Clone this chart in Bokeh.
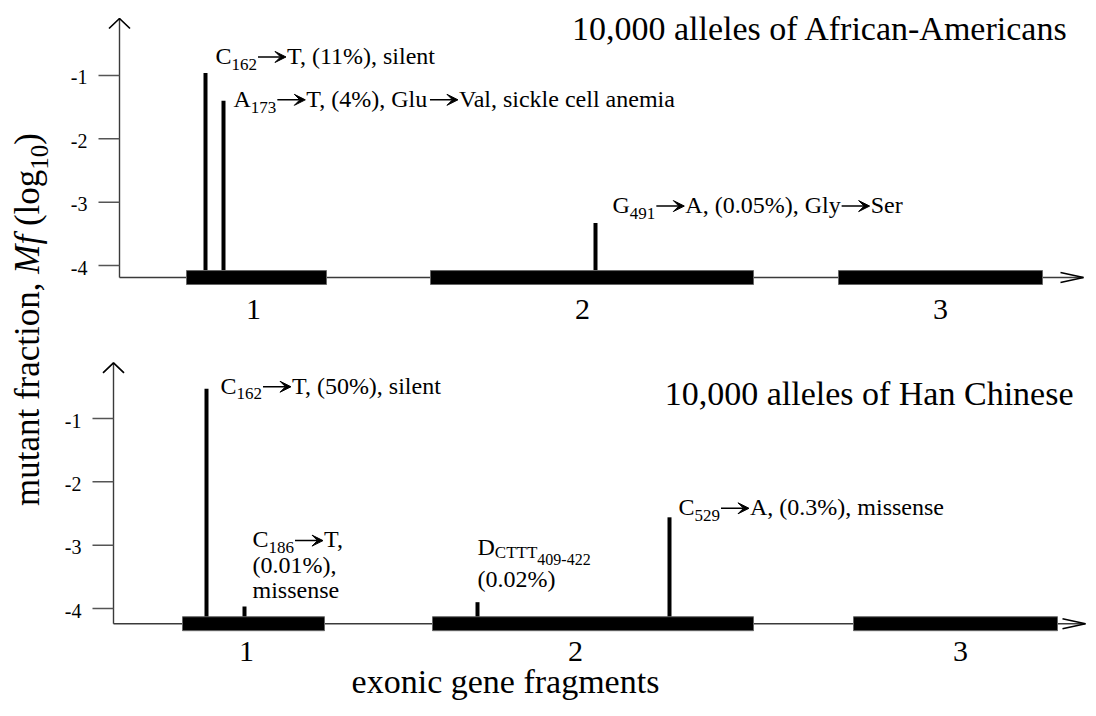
import math
from bokeh.plotting import figure
from bokeh.models import Range1d, Arrow, VeeHead, ColumnDataSource
from bokeh.core.properties import value
from bokeh.embed import file_html
from bokeh.resources import INLINE

# ---------------- data ----------------
exon_names = ["1", "2", "3"]
# schematic gene-axis positions (arbitrary drawing units along the gene)
aa_exon_start = [186, 430, 838]
aa_exon_end = [326, 753, 1042]
aa_exon_label_x = [253, 582, 940]
hc_exon_start = [182, 432, 853]
hc_exon_end = [324, 753, 1057]
hc_exon_label_x = [246, 575, 960]

# mutations: schematic position and log10 mutant fraction
aa_mut_pos = [205, 223, 595]
aa_mut_logmf = [-0.96, -1.40, -3.33]
hc_mut_pos = [206, 244, 477, 669]
hc_mut_logmf = [-0.53, -3.97, -3.90, -2.56]

y_ticks = [-1, -2, -3, -4]

aa_labels = [
    [[("n", "C"), ("sub", "162"), ("arrow", ""), ("n", "T, (11%), silent")]],
    [[("n", "A"), ("sub", "173"), ("arrow", ""), ("n", "T, (4%), Glu"), ("arrow", ""),
      ("n", "Val, sickle cell anemia")]],
    [[("n", "G"), ("sub", "491"), ("arrow", ""), ("n", "A, (0.05%), Gly"), ("arrow", ""), ("n", "Ser")]],
]
hc_labels = [
    [[("n", "C"), ("sub", "162"), ("arrow", ""), ("n", "T, (50%), silent")]],
    [[("n", "C"), ("sub", "186"), ("arrow", ""), ("n", "T,")], [("n", "(0.01%),")], [("n", "missense")]],
    [[("n", "D"), ("sub1", "CTTT"), ("sub2", "409-422")], [("n", "(0.02%)")]],
    [[("n", "C"), ("sub", "529"), ("arrow", ""), ("n", "A, (0.3%), missense")]],
]
aa_title = "10,000 alleles of African-Americans"
hc_title = "10,000 alleles of Han Chinese"
x_title = "exonic gene fragments"
y_title = [("n", "mutant fraction, "), ("i", "Mf"), ("n", " (log"), ("sub", "10"), ("n", ")")]

# ---------------- layout / style ----------------
W, H = 1096, 716
FONT = "Liberation Serif"
INK = "black"
AXC = "#3a3a3a"
MID = 0.34  # distance (in em) from alphabetic baseline up to the "middle" anchor
# label placement relative to top of each mutation line: dx, baseline dy per line (px, + = down)
aa_label_layout = [(10, [-9]), (10, [6]), (17, [-10])]
hc_label_layout = [(14, [5]), (8, [-59, -33, -8]), (0, [-47, -15]), (9, [-2])]
KINDS = {"n": (24, 0), "sub": (17, 6), "sub1": (17, 3), "sub2": (16, 10)}
ARROW_LEN, ARROW_RAISE = 30, 7

panels = {
    # range so that -4 / -1 land at the drawn tick heights
    "aa": dict(rng=Range1d(-11.121, 0.1842), axis_x=119, base=-4.19, top=-0.10, x_end=1083,
               starts=aa_exon_start, ends=aa_exon_end, lab_x=aa_exon_label_x, lab_dy=32,
               pos=aa_mut_pos, val=aa_mut_logmf, labels=aa_labels, layout=aa_label_layout),
    "hc": dict(rng=Range1d(-5.705, 5.600), axis_x=113, base=-4.24, top=-0.12, x_end=1085,
               starts=hc_exon_start, ends=hc_exon_end, lab_x=hc_exon_label_x, lab_dy=28,
               pos=hc_mut_pos, val=hc_mut_logmf, labels=hc_labels, layout=hc_label_layout),
}

TW = {' ': 250, '!': 333, '%': 833, '(': 333, ')': 333, ',': 250, '-': 333, '.': 250,
      'A': 722, 'C': 667, 'D': 722, 'G': 722, 'M': 889, 'S': 556, 'T': 611, 'V': 722,
      'a': 444, 'c': 444, 'e': 444, 'f': 333, 'g': 500, 'i': 278, 'k': 500, 'l': 278,
      'm': 778, 'n': 500, 'o': 500, 'r': 333, 's': 389, 't': 278, 'u': 500, 'y': 500}
TWI = {'M': 833, 'f': 278}


def text_width(s, size, italic=False):
    tot = 0
    for ch in s:
        if italic and ch in TWI:
            tot += TWI[ch]
        else:
            tot += TW.get(ch, 500)
    return tot * size / 1000.0


p = figure(width=W, height=H, x_range=Range1d(0, W), y_range=Range1d(H, 0),
           output_backend="svg", toolbar_location=None, min_border=0,
           x_axis_location=None, y_axis_location=None)
p.grid.visible = False
p.outline_line_color = None
p.background_fill_color = "white"
p.border_fill_color = "white"
p.extra_y_ranges = {k: v["rng"] for k, v in panels.items()}

for name, P in panels.items():
    ppu = H / (P["rng"].end - P["rng"].start)
    ax = P["axis_x"]
    base = P["base"]
    top = P["top"]
    xe = P["x_end"]
    # axis lines
    p.segment(x0=[ax, ax], y0=[base, base], x1=[xe, ax], y1=[base, top],
              line_color=AXC, line_width=1.4, y_range_name=name)
    # open arrow heads
    p.multi_line(xs=[[ax - 10.5, ax, ax + 10.5], [xe - 23, xe, xe - 23]],
                 ys=[[top - 10 / ppu, top, top - 10 / ppu], [base + 5 / ppu, base, base - 5 / ppu]],
                 line_color=INK, line_width=1.7, y_range_name=name)
    # ticks and tick labels
    p.segment(x0=[ax - 21] * len(y_ticks), x1=[ax] * len(y_ticks), y0=y_ticks, y1=y_ticks,
              line_color="#555555", line_width=1.5, y_range_name=name)
    p.text(x=[ax - 32] * len(y_ticks), y=y_ticks, text=[str(t) for t in y_ticks],
           text_align="right", text_baseline="middle", y_offset=2,
           text_font=value(FONT), text_font_size="20px", text_color=INK, y_range_name=name)
    # mutation lines
    p.segment(x0=P["pos"], x1=P["pos"], y0=[base] * len(P["pos"]), y1=P["val"],
              line_color=INK, line_width=4, line_cap="butt", y_range_name=name)
    # exon bars
    p.quad(left=P["starts"], right=P["ends"], bottom=[base - 0.11] * 3, top=[base + 0.11] * 3,
           fill_color=INK, line_color="#666666", line_width=1, y_range_name=name)
    # exon labels
    p.text(x=P["lab_x"], y=[base] * 3, text=exon_names, y_offset=P["lab_dy"],
           text_align="center", text_baseline="middle",
           text_font=value(FONT), text_font_size="30px", text_color=INK, y_range_name=name)
    # annotation labels
    txt = {k: [] for k in ("x", "y", "xo", "yo", "text", "size")}
    arr = {k: [] for k in ("xs", "ys", "xe", "ye")}
    for x0, v, lines, (dx, dys) in zip(P["pos"], P["val"], P["labels"], P["layout"]):
        for line, dy in zip(lines, dys):
            cur = dx
            for kind, s in line:
                if kind == "arrow":
                    ya = v - (dy - ARROW_RAISE) / ppu
                    arr["xs"].append(x0 + cur + 1)
                    arr["xe"].append(x0 + cur + ARROW_LEN - 1)
                    arr["ys"].append(ya)
                    arr["ye"].append(ya)
                    cur += ARROW_LEN
                else:
                    size, shift = KINDS[kind]
                    lead = len(s) - len(s.lstrip(" "))
                    cur += text_width(" " * lead, size)
                    s = s.lstrip(" ")
                    txt["x"].append(x0)
                    txt["y"].append(v)
                    txt["xo"].append(cur)
                    txt["yo"].append(dy + shift - MID * size)
                    txt["text"].append(s)
                    txt["size"].append(f"{size}px")
                    cur += text_width(s, size)
    p.text(x="x", y="y", text="text", x_offset="xo", y_offset="yo", text_font_size="size",
           source=ColumnDataSource(txt), text_align="left", text_baseline="middle",
           text_font=value(FONT), text_color=INK, y_range_name=name)
    if arr["xs"]:
        p.add_layout(Arrow(x_start="xs", y_start="ys", x_end="xe", y_end="ye",
                           source=ColumnDataSource(arr), y_range_name=name,
                           line_color=INK, line_width=1.5,
                           end=VeeHead(size=11, fill_color=INK, line_color=INK, line_width=1)))

# panel titles (baselines at 40 and 405 px)
TS = 34
p.text(x=[1068, 1073], y=[40 - MID * TS, 405 - MID * TS], text=[aa_title, hc_title],
       text_align="right", text_baseline="middle", text_font=value(FONT),
       text_font_size=f"{TS}px", text_color=INK)
# x title (baseline at 693 px)
p.text(x=[505], y=[693 - MID * TS], text=[x_title], text_align="center", text_baseline="middle",
       text_font=value(FONT), text_font_size=f"{TS}px", text_color=INK)
# y title (rotated, composed of segments; baseline at x = 39 px)
YT_SIZE, YT_SUB = 35, 25
ysegs = {k: [] for k in ("x", "y", "text", "size", "style")}
total = 0
for kind, s in y_title:
    size = YT_SUB if kind == "sub" else YT_SIZE
    total += text_width(s, size, italic=(kind == "i"))
cur = 0
y_start = 319 + total / 2
for kind, s in y_title:
    size = YT_SUB if kind == "sub" else YT_SIZE
    shift = 8 if kind == "sub" else 0
    lead = len(s) - len(s.lstrip(" "))
    cur += text_width(" " * lead, size)
    s = s.lstrip(" ")
    ysegs["x"].append(39 + shift - MID * size)
    ysegs["y"].append(y_start - cur)
    ysegs["text"].append(s)
    ysegs["size"].append(f"{size}px")
    ysegs["style"].append("italic" if kind == "i" else "normal")
    cur += text_width(s, size, italic=(kind == "i"))
p.text(x="x", y="y", text="text", text_font_size="size", text_font_style="style",
       source=ColumnDataSource(ysegs), angle=math.pi / 2, text_align="left",
       text_baseline="middle", text_font=value(FONT), text_color=INK)

open("out.html", "w").write(file_html(p, INLINE))
